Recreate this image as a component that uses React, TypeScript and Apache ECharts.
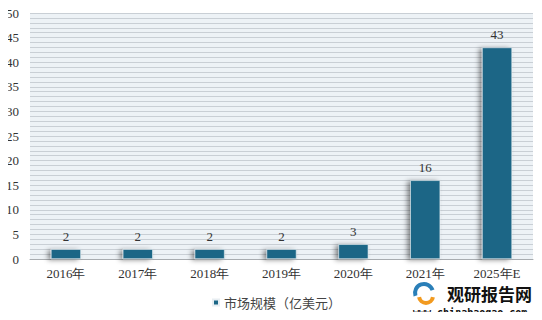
import React, { useEffect, useRef } from "react";
import * as echarts from "echarts";

const categories = ["2016年", "2017年", "2018年", "2019年", "2020年", "2021年", "2025年E"];
const marketSize = [2, 2, 2, 2, 3, 16, 43];
const seriesName = "市场规模（亿美元）";

export default function App() {
  const ref = useRef<HTMLDivElement>(null);
  useEffect(() => {
    if (!ref.current) return;
    const chart = echarts.init(ref.current, null, { renderer: "svg" });
    chart.setOption({
      animation: false,
      backgroundColor: "#ffffff",
      grid: {
        left: 30,
        right: 9,
        top: 13,
        bottom: 61,
        show: true,
        backgroundColor: "#edf2f6",
        borderWidth: 0,
      },
      legend: {
        data: [seriesName],
        left: 207,
        top: 291,
        icon: "rect",
        itemWidth: 6,
        itemHeight: 6,
        itemGap: 4,
        textStyle: { fontFamily: "Noto Sans CJK SC", fontSize: 13, color: "#444" },
      },
      xAxis: {
        type: "category",
        data: categories,
        axisLine: { show: true, lineStyle: { color: "#a8acb0", width: 1 } },
        axisTick: { show: false },
        axisLabel: {
          fontFamily: "Liberation Serif",
          fontSize: 13,
          color: "#333",
          margin: 8,
        },
      },
      yAxis: {
        type: "value",
        min: 0,
        max: 50,
        interval: 5,
        axisLine: { show: false },
        axisTick: { show: false },
        axisLabel: {
          fontFamily: "Liberation Serif",
          fontSize: 13,
          color: "#333",
          margin: 11,
        },
        splitLine: { show: true, lineStyle: { color: "#c9cfd5", width: 1 } },
        minorTick: { show: false, splitNumber: 5 },
        minorSplitLine: { show: true, lineStyle: { color: "#c9cfd5", width: 1 } },
      },
      series: [
        {
          name: seriesName,
          type: "bar",
          data: marketSize,
          barWidth: 30,
          itemStyle: {
            color: "#1b6686",
            borderColor: "#e8eef2",
            borderWidth: 0.6,
            shadowColor: "rgba(0,0,0,0.45)",
            shadowBlur: 5,
            shadowOffsetX: -3,
            shadowOffsetY: 1,
          },
          label: {
            show: true,
            position: "top",
            distance: 6,
            fontFamily: "Liberation Serif",
            fontSize: 13,
            color: "#333",
          },
        },
      ],
      graphic: [
        {
          type: "arc",
          shape: { cx: 424, cy: 293, r: 9, startAngle: Math.PI * 0.9, endAngle: Math.PI * 1.9 },
          style: { stroke: "#2a7fb8", lineWidth: 4, fill: "none" },
        },
        {
          type: "arc",
          shape: { cx: 426, cy: 296, r: 7, startAngle: Math.PI * 0.05, endAngle: Math.PI * 0.95 },
          style: { stroke: "#f29a1f", lineWidth: 4, fill: "none" },
        },
        {
          type: "text",
          x: 447,
          y: 293,
          style: {
            text: "观研报告网",
            fontFamily: "Noto Sans CJK SC",
            fontWeight: "bold",
            fontSize: 17,
            lineHeight: 17,
            fill: "#111",
            textAlign: "left",
            textVerticalAlign: "middle",
          },
        },
        {
          type: "text",
          x: 413,
          y: 312,
          style: {
            text: "www.chinabaogao.com",
            fontFamily: "DejaVu Sans Mono",
            fontWeight: "bold",
            fontSize: 10,
            lineHeight: 10,
            fill: "#111",
            textAlign: "left",
            textVerticalAlign: "middle",
          },
        },
      ],
    });
    return () => chart.dispose();
  }, []);
  return (
    <div style={{ margin: -8 }}>
      <div ref={ref} style={{ width: 542, height: 320 }} />
    </div>
  );
}
